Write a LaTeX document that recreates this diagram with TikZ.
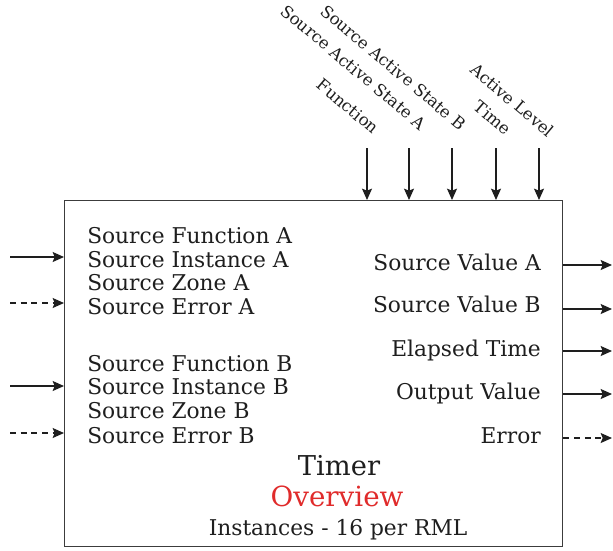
\documentclass[tikz,border=0pt]{standalone}
\usepackage{fontspec}
\setmainfont{DejaVu Serif}
\usetikzlibrary{arrows.meta}
\definecolor{ink}{HTML}{1E1E1E}
\definecolor{boxline}{HTML}{3C3C3C}
\definecolor{ovred}{HTML}{E02B2B}
\begin{document}
\begin{tikzpicture}[x=0.75pt,y=-0.75pt,
  arr/.style={draw=ink, line width=1.1pt, -{Stealth[length=8.5pt,width=7.5pt,inset=1.5pt]}},
  darr/.style={arr, dash pattern=on 4.5pt off 3.5pt},
  lbl/.style={text=ink, inner sep=0pt, font=\fontsize{16.3pt}{19pt}\selectfont},
  rlbl/.style={text=ink, inner sep=0pt, font=\fontsize{12.4pt}{15pt}\selectfont, rotate=-40, anchor=base east}]
\useasboundingbox (0,0) rectangle (613,550);
\node (box) [draw=boxline, line width=1.1pt, inner sep=0pt, minimum width=373.5pt, minimum height=259.5pt, anchor=north west] at (64,200) {};
% left labels
\node[lbl, anchor=base west] (sfa) at (87,243) {Source Function A};
\node[lbl, anchor=base west] (sia) at (87,267) {Source Instance A};
\node[lbl, anchor=base west] (sza) at (87,290) {Source Zone A};
\node[lbl, anchor=base west] (sea) at (87,314) {Source Error A};
\node[lbl, anchor=base west] (sfb) at (87,371) {Source Function B};
\node[lbl, anchor=base west] (sib) at (87,394) {Source Instance B};
\node[lbl, anchor=base west] (szb) at (87,418) {Source Zone B};
\node[lbl, anchor=base west] (seb) at (87,443) {Source Error B};
% right labels
\node[lbl, anchor=base east] (sva) at (541,270) {Source Value A};
\node[lbl, anchor=base east] (svb) at (541,312) {Source Value B};
\node[lbl, anchor=base east] (et) at (541,356) {Elapsed Time};
\node[lbl, anchor=base east] (ov) at (541,399) {Output Value};
\node[lbl, anchor=base east] (err) at (541,443) {Error};
% title
\node[lbl, anchor=base, font=\fontsize{20.5pt}{24pt}\selectfont] (timer) at (339,475) {Timer};
\node[lbl, anchor=base, text=ovred, font=\fontsize{20.8pt}{24pt}\selectfont] (overview) at (337,506) {Overview};
\node[lbl, anchor=base] (inst) at (338,535) {Instances - 16 per RML};
% top labels
\node[rlbl] (tfun) at (373,135) {Function};
\node[rlbl] (tsasa) at (420,131) {Source Active State A};
\node[rlbl] (tsasb) at (460,131) {Source Active State B};
\node[rlbl] (ttime) at (505,136) {Time};
\node[rlbl] (tal) at (548,138) {Active Level};
% top arrows
\coordinate (t1) at (367,148);
\coordinate (t2) at (409,148);
\coordinate (t3) at (452,148);
\coordinate (t4) at (496,148);
\coordinate (t5) at (539,148);
\foreach \c in {t1,t2,t3,t4,t5} \draw[arr] (\c) -- (\c |- box.north);
% left arrows
\coordinate (l1) at (10,257);
\coordinate (l2) at (10,303);
\coordinate (l3) at (10,386);
\coordinate (l4) at (10,433);
\draw[arr] (l1) -- (l1 -| box.west);
\draw[darr] (l2) -- (l2 -| box.west);
\draw[arr] (l3) -- (l3 -| box.west);
\draw[darr] (l4) -- (l4 -| box.west);
% right arrows
\coordinate (r1) at (612,265);
\coordinate (r2) at (612,309);
\coordinate (r3) at (612,351);
\coordinate (r4) at (612,394);
\coordinate (r5) at (612,438);
\draw[arr] (r1 -| box.east) -- (r1);
\draw[arr] (r2 -| box.east) -- (r2);
\draw[arr] (r3 -| box.east) -- (r3);
\draw[arr] (r4 -| box.east) -- (r4);
\draw[darr] (r5 -| box.east) -- (r5);
\end{tikzpicture}
\end{document}
